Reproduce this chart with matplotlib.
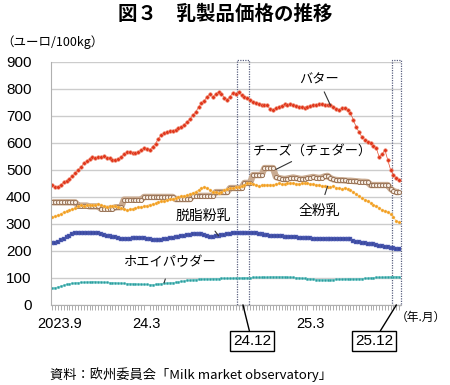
import numpy as np
import matplotlib.pyplot as plt
from matplotlib.patches import Rectangle

plt.rcParams['font.family'] = ['Liberation Sans', 'Noto Sans CJK JP']
JP = ['Noto Sans CJK JP', 'Liberation Sans']

# weekly prices, Sep 2023 - Dec 2025 (EUR/100kg)
butter = [444, 438, 437, 445, 455, 460, 468, 476, 488, 500, 511, 524, 532, 540, 548, 545,
          548, 547, 550, 546, 544, 538, 537, 541, 548, 558, 566, 568, 563, 562, 566, 575,
          580, 577, 574, 586, 598, 615, 630, 636, 641, 643, 646, 648, 655, 658, 668, 678,
          688, 702, 715, 732, 748, 756, 772, 781, 770, 782, 789, 783, 767, 760, 772, 785,
          780, 789, 778, 771, 767, 758, 752, 748, 745, 742, 741, 740, 724, 722, 730, 734,
          738, 744, 742, 744, 741, 738, 735, 733, 731, 735, 737, 741, 742, 744, 743, 740,
          742, 741, 735, 726, 722, 728, 730, 722, 711, 685, 659, 640, 622, 612, 605, 600,
          590, 581, 548, 558, 574, 537, 500, 482, 470, 463]
cheese = [380, 380, 380, 380, 380, 380, 380, 380, 380, 368, 368, 368, 368, 365, 365, 365,
          365, 356, 356, 356, 356, 356, 362, 362, 362, 390, 390, 390, 390, 390, 390, 390,
          400, 400, 400, 400, 400, 400, 400, 400, 400, 400, 400, 392, 392, 392, 392, 392,
          392, 404, 404, 404, 404, 404, 404, 404, 404, 418, 418, 418, 418, 418, 433, 433,
          433, 433, 433, 452, 452, 452, 481, 481, 481, 481, 507, 507, 507, 507, 474, 470,
          468, 466, 468, 470, 472, 470, 468, 466, 468, 470, 472, 474, 472, 470, 472, 476,
          478, 470, 465, 463, 462, 462, 461, 460, 460, 459, 458, 457, 456, 456, 455, 444,
          444, 444, 444, 444, 444, 444, 430, 422, 418, 418]
wmp = [326, 328, 332, 338, 343, 348, 352, 356, 360, 365, 370, 368, 370, 372, 369, 372,
       373, 370, 365, 364, 366, 368, 366, 362, 358, 356, 352, 354, 356, 358, 362, 364,
       366, 368, 372, 374, 376, 380, 384, 386, 389, 392, 394, 396, 400, 402, 404, 408,
       412, 415, 420, 426, 432, 437, 434, 426, 420, 418, 415, 420, 424, 428, 432, 434,
       436, 438, 442, 446, 450, 452, 448, 444, 442, 444, 445, 446, 444, 446, 448, 450,
       447, 448, 450, 452, 450, 449, 448, 450, 452, 451, 449, 447, 445, 444, 442, 440,
       438, 436, 440, 435, 432, 430, 434, 428, 426, 418, 410, 402, 396, 390, 384, 378,
       372, 366, 360, 352, 348, 344, 336, 325, 310, 306]
smp = [228, 230, 234, 240, 246, 250, 256, 262, 266, 267, 266, 267, 268, 267, 266, 267,
       266, 264, 260, 256, 254, 252, 250, 248, 246, 244, 243, 245, 247, 248, 249, 248,
       247, 246, 244, 242, 241, 240, 241, 243, 245, 247, 249, 250, 252, 254, 256, 258,
       260, 262, 263, 264, 262, 258, 254, 252, 253, 254, 256, 258, 260, 262, 264, 266,
       267, 266, 265, 266, 267, 268, 266, 265, 264, 262, 260, 258, 257, 256, 255, 254,
       254, 253, 252, 251, 250, 250, 249, 248, 248, 247, 247, 246, 246, 245, 245, 244,
       244, 245, 246, 245, 244, 244, 245, 246, 244, 238, 234, 232, 230, 228, 227, 226,
       224, 222, 220, 218, 216, 214, 212, 210, 208, 207]
whey = [62, 64, 67, 70, 73, 76, 78, 80, 82, 83, 84, 84, 85, 85, 86, 86,
        85, 85, 84, 84, 83, 82, 82, 81, 81, 80, 79, 79, 78, 78, 77, 77,
        76, 76, 75, 75, 76, 77, 79, 80, 81, 82, 83, 84, 85, 87, 89, 91,
        92, 93, 94, 95, 95, 96, 96, 96, 97, 97, 97, 98, 98, 98, 99, 99,
        100, 100, 100, 101, 101, 101, 102, 102, 102, 103, 103, 103, 104, 104, 104, 104,
        104, 104, 103, 103, 102, 101, 100, 99, 98, 97, 96, 95, 94, 94, 93, 93,
        93, 94, 94, 95, 95, 95, 96, 96, 96, 96, 96, 97, 97, 98, 99, 100,
        101, 102, 102, 103, 103, 104, 104, 104, 105, 104]

x = np.arange(len(butter))
tick_pos = [2.5, 33, 90]
tick_labels = ['2023.9', '24.3', '25.3']
dec_weeks = [(64.5, 68.5, '24.12'), (118.5, 121.5, '25.12')]

fig = plt.figure(figsize=(4.5, 3.85), dpi=100)
ax = fig.add_axes([0.113, 0.208, 0.778, 0.631])

ax.plot(x, cheese, color='#c9aa90', lw=4.6, solid_capstyle='butt')
ax.plot(x, cheese, ls='none', marker='o', ms=2.9, mfc='#f6ece2',
        mec='#8c6446', mew=0.6)
ax.plot(x, butter, color='#e24a2c', lw=0.5, marker='o', ms=2.6, mfc='#e0361c',
        mec='#f08a70', mew=0.4)
ax.plot(x, wmp, color='#f5b040', lw=0.4, marker='o', ms=2.2, mfc='#f29d1f',
        mec='#f8c878', mew=0.3)
ax.plot(x, smp, color='#4a58b0', lw=0.6, marker='s', ms=2.3, mfc='#3a48a0',
        mec='#6a78c8', mew=0.3)
ax.plot(x, whey, color='#40b0b0', lw=0.4, marker='o', ms=1.9, mfc='#2a9c9c',
        mec='#70c8c8', mew=0.3)

ax.set_xlim(-0.5, 121.6)
ax.set_ylim(0, 900)
ax.set_yticks(range(0, 901, 100))
ax.grid(axis='y', color='#cccccc', lw=1)
ax.set_axisbelow(True)
for s in ['top', 'right']:
    ax.spines[s].set_visible(False)
for s in ['left', 'bottom']:
    ax.spines[s].set_color('#b0b0b0')
ax.tick_params(axis='y', length=0, pad=14, labelsize=11)
ax.set_xticks(tick_pos, tick_labels)
ax.set_xticks(x, minor=True)
ax.tick_params(axis='x', which='major', length=0, pad=9, labelsize=10.5)
ax.tick_params(axis='x', which='minor', length=3.5, color='#a0a0a0', width=0.6)

# December boxes and call-outs
for (x0, x1, lab), (tx, ty) in zip(dec_weeks, [(63, -135), (105.5, -135)]):
    ax.add_patch(Rectangle((x0, 0), x1 - x0, 906, fill=False, ec='#5a6080',
                           lw=0.9, ls=(0, (1, 1)), clip_on=False))
    xm = (x0 + x1) / 2
    ax.annotate(lab, xy=(xm, 0), xytext=(tx, ty), textcoords='data',
                ha='left', va='center', fontsize=11, annotation_clip=False,
                bbox=dict(boxstyle='square,pad=0.2', fc='white', ec='black', lw=1),
                arrowprops=dict(arrowstyle='-', color='black', lw=1,
                                shrinkA=0, shrinkB=0))

# series labels
ax.annotate('バター', xy=(97, 740), xytext=(86, 833), fontsize=9.5, family=JP,
            ha='left', va='center',
            arrowprops=dict(arrowstyle='-', color='#333333', lw=0.8, shrinkA=2, shrinkB=0))
ax.annotate('チーズ（チェダー）', xy=(78, 502), xytext=(70, 570), fontsize=9.5, family=JP,
            ha='left', va='center',
            arrowprops=dict(arrowstyle='-', color='#333333', lw=0.8, shrinkA=2, shrinkB=0))
ax.annotate('全粉乳', xy=(96, 440), xytext=(86, 348), fontsize=10, family=JP,
            ha='left', va='center',
            arrowprops=dict(arrowstyle='-', color='#333333', lw=0.8, shrinkA=5, shrinkB=0))
ax.annotate('脱脂粉乳', xy=(58, 256), xytext=(43, 330), fontsize=10, family=JP,
            ha='left', va='center',
            arrowprops=dict(arrowstyle='-', color='#333333', lw=0.8, shrinkA=5, shrinkB=0))
ax.annotate('ホエイパウダー', xy=(39, 82), xytext=(25, 155), fontsize=9.5, family=JP,
            ha='left', va='center',
            arrowprops=dict(arrowstyle='-', color='#333333', lw=0.8, shrinkA=5, shrinkB=0))

fig.text(0.5, 0.962, '図３　乳製品価格の推移', ha='center', va='center',
         fontsize=14, family=JP, fontweight='bold')
fig.text(0.002, 0.89, '（ユーロ/100kg）', ha='left', va='center', fontsize=9, family=JP)
fig.text(0.992, 0.175, '（年.月）', ha='right', va='center', fontsize=8.5, family=JP)
fig.text(0.11, 0.026, '資料：欧州委員会「Milk market observatory」', ha='left',
         va='center', fontsize=9.5, family=JP)

fig.savefig('out.png', dpi=100)
